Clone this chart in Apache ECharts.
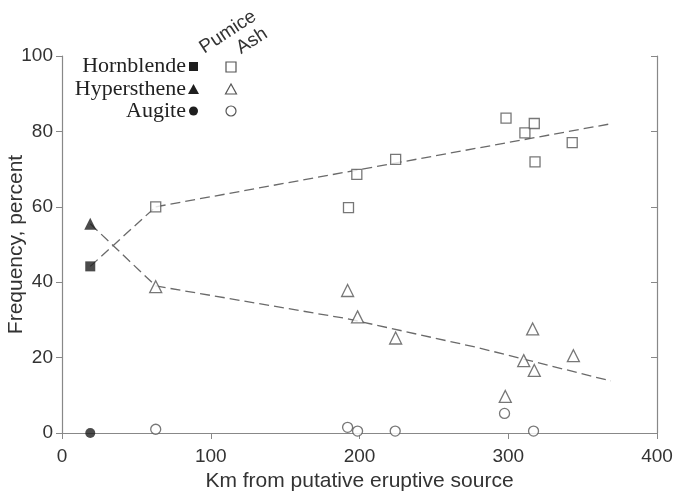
<!DOCTYPE html>
<html>
<head>
<meta charset="utf-8">
<script src="https://cdn.jsdelivr.net/npm/echarts@6/dist/echarts.min.js"></script>
<style>
  html, body { margin: 0; padding: 0; background: #fff; }
  #chart { width: 673px; height: 497px; }
</style>
</head>
<body>
<div id="chart"></div>
<script>
// 轴刻度
const xTicks = [0, 100, 200, 300, 400];
const yTicks = [0, 20, 40, 60, 80, 100];

// Pumice (实心) —— [km, percent]
const pumiceHornblende = [[19, 44.2]];
const pumiceHypersthene = [[19, 55.5]];
const pumiceAugite = [[19, 0]];

// Ash (空心)
const ashHornblende = [
  [63, 60], [192.6, 59.8], [198.2, 68.6], [224.3, 72.6], [298.5, 83.5],
  [311.2, 79.6], [317.5, 82.1], [318, 71.9], [343, 77]
];
const ashHypersthene = [
  [63, 38.8], [192, 37.8], [198.7, 30.8], [224.3, 25.2], [298, 9.7],
  [310.4, 19.2], [316.4, 27.6], [317.5, 16.6], [343.8, 20.5]
];
const ashAugite = [
  [63, 1.0], [192, 1.5], [198.7, 0.5], [224, 0.5], [297.5, 5.2], [317, 0.5]
];

// 虚线趋势
const hornblendeLink = [[19, 44.2], [63, 60]];
const hypersthenLink = [[19, 55.5], [63, 39]];
const hornblendeTrend = [[63, 60], [370, 82.1]];
const hypersthenTrend = [[63, 39], [192, 30.3], [280, 22.6], [369, 13.8]];

const GRAY = '#6a6a6a';
const DARK = '#1e1e1e';
const sans = '"Liberation Sans", Arial, sans-serif';
const serif = '"Liberation Serif", "Times New Roman", serif';

function dashed(data) {
  return {
    type: 'line', data: data, showSymbol: false, silent: true, z: 1,
    lineStyle: { color: GRAY, width: 1.3, type: [10, 5] }
  };
}
function dots(data, symbol, size, filled) {
  return {
    type: 'scatter', data: data, symbol: symbol, symbolSize: size, z: 3,
    itemStyle: filled
      ? { color: DARK }
      : { color: '#fff', borderColor: '#555', borderWidth: 1.3 }
  };
}

const myChart = echarts.init(document.getElementById('chart'));
myChart.setOption({
  backgroundColor: '#fff',
  animation: false,
  grid: { left: 62, right: 16, top: 56, bottom: 64, outerBoundsMode: 'none', containLabel: false },
  xAxis: {
    type: 'value', min: xTicks[0], max: xTicks[xTicks.length - 1], interval: 100,
    name: 'Km from putative eruptive source',
    nameLocation: 'middle', nameGap: 38, nameMoveOverlap: false,
    nameTextStyle: { fontFamily: sans, fontSize: 21, color: '#333' },
    axisLine: { lineStyle: { color: '#888', width: 1.2 } },
    axisTick: { inside: false, length: 6, lineStyle: { color: '#888' } },
    axisLabel: { fontFamily: sans, fontSize: 19, color: '#333', margin: 14 },
    splitLine: { show: false }
  },
  yAxis: [{
    type: 'value', min: yTicks[0], max: yTicks[yTicks.length - 1], interval: 20,
    name: 'Frequency, percent',
    nameLocation: 'middle', nameGap: 35, nameMoveOverlap: false,
    nameTextStyle: { fontFamily: sans, fontSize: 21, color: '#333' },
    axisLine: { show: true, lineStyle: { color: '#888', width: 1.2 } },
    axisTick: { show: true, length: 6, lineStyle: { color: '#888' } },
    axisLabel: { fontFamily: sans, fontSize: 19, color: '#333', margin: 9 },
    splitLine: { show: false }
  }, {
    type: 'value', position: 'right', min: 0, max: 100, interval: 20,
    axisLine: { show: true, lineStyle: { color: '#888', width: 1.2 } },
    axisTick: { show: true, inside: true, length: 6, lineStyle: { color: '#888' } },
    axisLabel: { show: false },
    splitLine: { show: false }
  }],
  series: [
    dashed(hornblendeLink),
    dashed(hypersthenLink),
    dashed(hornblendeTrend),
    dashed(hypersthenTrend),
    dots(ashHornblende, 'rect', 10, false),
    dots(ashHypersthene, 'triangle', 12, false),
    dots(ashAugite, 'circle', 10, false),
    dots(pumiceHornblende, 'rect', 10, true),
    dots(pumiceHypersthene, 'triangle', 12, true),
    dots(pumiceAugite, 'circle', 10, true)
  ],
  graphic: [
    // 图例文字
    { type: 'text', x: 186, y: 66, style: { text: 'Hornblende', font: '22px ' + serif, fill: '#222', align: 'right', verticalAlign: 'middle' } },
    { type: 'text', x: 186, y: 89, style: { text: 'Hypersthene', font: '22px ' + serif, fill: '#222', align: 'right', verticalAlign: 'middle' } },
    { type: 'text', x: 186, y: 111, style: { text: 'Augite', font: '22px ' + serif, fill: '#222', align: 'right', verticalAlign: 'middle' } },
    // 图例符号
    { type: 'rect', shape: { x: 189, y: 62, width: 9, height: 9 }, style: { fill: DARK } },
    { type: 'rect', shape: { x: 226, y: 62, width: 10, height: 10 }, style: { fill: '#fff', stroke: '#555', lineWidth: 1.2 } },
    { type: 'polygon', shape: { points: [[193.5, 84], [188, 94], [199, 94]] }, style: { fill: DARK } },
    { type: 'polygon', shape: { points: [[231, 84], [225.5, 94], [236.5, 94]] }, style: { fill: '#fff', stroke: '#555', lineWidth: 1.2 } },
    { type: 'circle', shape: { cx: 193.5, cy: 111, r: 4.5 }, style: { fill: DARK } },
    { type: 'circle', shape: { cx: 231, cy: 111, r: 5 }, style: { fill: '#fff', stroke: '#555', lineWidth: 1.2 } },
    // 栏目标题（倾斜）
    { type: 'text', x: 228, y: 32, rotation: 33 * Math.PI / 180, style: { text: 'Pumice', font: '19px ' + sans, fill: '#333', align: 'center', verticalAlign: 'middle' } },
    { type: 'text', x: 252, y: 41, rotation: 33 * Math.PI / 180, style: { text: 'Ash', font: '19px ' + sans, fill: '#333', align: 'center', verticalAlign: 'middle' } }
  ]
});
</script>
</body>
</html>
